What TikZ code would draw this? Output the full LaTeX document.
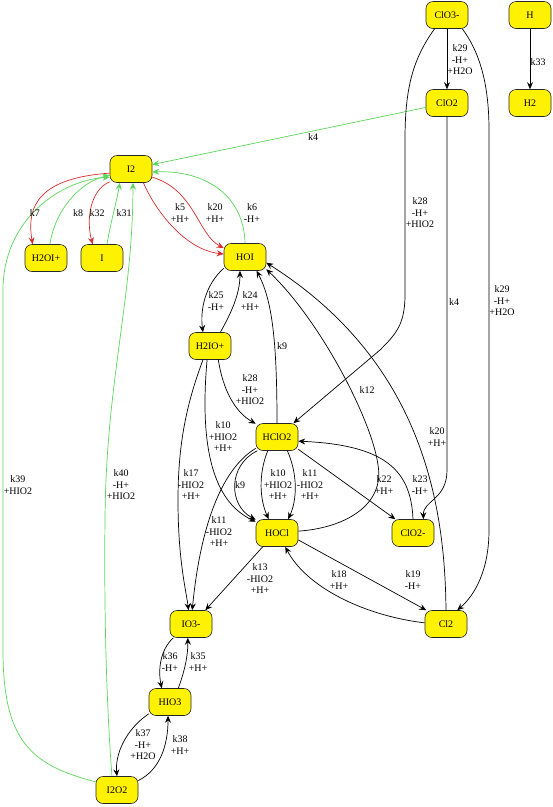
\documentclass[tikz,border=0pt]{standalone}
\usepackage{fontspec}
\setmainfont{Liberation Serif}
\usetikzlibrary{arrows.meta}
\definecolor{grn}{RGB}{90,215,90}
\definecolor{rd}{RGB}{215,45,45}

\begin{document}
\begin{tikzpicture}[x=1pt,y=-1pt,font=\fontsize{10}{11.5}\selectfont,
  sp/.style={draw=black!85,fill=yellow,rounded corners=7pt,minimum width=42pt,minimum height=27pt,inner sep=1pt,line width=0.6pt},
  lbl/.style={align=center,inner sep=0pt},
  e/.style={draw=black,line width=0.7pt,-{Stealth[length=7pt,width=6pt,inset=2.5pt]}},
  eg/.style={e,draw=grn},
  er/.style={e,draw=rd}]
\useasboundingbox (0,0) rectangle (553,807);

% species
\node[sp] (clo3m) at (447,15) {ClO3-};
\node[sp] (h) at (530,15) {H};
\node[sp] (clo2) at (447,103) {ClO2};
\node[sp] (htwo) at (530,103) {H2};
\node[sp] (itwo) at (131,169) {I2};
\node[sp] (h2oip) at (46,258) {H2OI+};
\node[sp] (iat) at (102,258) {I};
\node[sp] (hoi) at (245,257) {HOI};
\node[sp] (h2iop) at (210,346) {H2IO+};
\node[sp] (hclo2) at (277,437) {HClO2};
\node[sp] (hocl) at (277,533) {HOCl};
\node[sp] (clo2m) at (413,533) {ClO2-};
\node[sp] (cltwo) at (446,624) {Cl2};
\node[sp] (io3m) at (191,624) {IO3-};
\node[sp] (hio3) at (170,702) {HIO3};
\node[sp] (i2o2) at (117,790) {I2O2};

% chlorine side
\draw[e] (clo3m) -- (clo2);
\draw[e] (h) -- (htwo);
\draw[eg] (clo2) -- (itwo);
\draw[e] (clo2.south) -- (447,470) .. controls (447,500) and (423,500) .. (clo2m.53);
\draw[e] (clo3m.-132) .. controls (412,60) and (405,90) .. (405,140) -- (405,295)
  .. controls (405,325) and (395,335) .. (380,350) -- (hclo2.40);
\draw[e] (clo3m.-42) .. controls (478,50) and (489,80) .. (489,130) -- (489,530)
  .. controls (489,570) and (475,595) .. (cltwo.51);

% iodine top
\draw[er] (itwo.191) .. controls (40,178) and (26,205) .. (h2oip.134);
\draw[eg] (h2oip.74) .. controls (55,210) and (80,182) .. (itwo.196);
\draw[er] (itwo.211) .. controls (90,190) and (86,220) .. (iat.124);
\draw[eg] (iat.70) .. controls (110,225) and (117,200) .. (itwo.-129);
\draw[er] (itwo.-48) .. controls (155,210) and (185,250) .. (hoi.172);
\draw[er] (itwo.-21) .. controls (195,190) and (198,235) .. (hoi.157);
\draw[eg] (hoi.north) .. controls (244,195) and (205,170) .. (itwo.-8);
\draw[eg] (i2o2.110) .. controls (106,700) and (104,600) .. (105,520)
  .. controls (106,380) and (133,300) .. (itwo.-82);
\draw[eg] (i2o2.159) .. controls (30,765) and (3,740) .. (3,650) -- (3,290)
  .. controls (3,220) and (60,180) .. (itwo.201);

% HOI / H2IO+
\draw[e] (hoi.208) .. controls (205,285) and (200,310) .. (h2iop.117);
\draw[e] (h2iop.53) .. controls (230,315) and (240,295) .. (hoi.-110);
\draw[e] (hclo2.north) .. controls (277,340) and (272,300) .. (hoi.-50);
\draw[e] (hocl.5) .. controls (345,528) and (385,505) .. (378,465)
  .. controls (372,420) and (320,320) .. (hoi.-30);
\draw[e] (cltwo.north) .. controls (445,500) and (420,360) .. (hoi.-15);
\draw[e] (h2iop.-59) .. controls (223,390) and (235,412) .. (hclo2.148);
\draw[e] (h2iop.-102) .. controls (200,440) and (210,500) .. (hocl.152);
\draw[e] (h2iop.-117) .. controls (188,400) and (178,440) .. (178,500)
  .. controls (178,560) and (186,590) .. (io3m.100);

% HClO2 / HOCl
\draw[e] (hclo2.-145) .. controls (228,465) and (228,505) .. (hocl.148);
\draw[e] (hclo2.-124) .. controls (258,475) and (260,500) .. (hocl.121);
\draw[e] (hclo2.-53) .. controls (298,475) and (297,500) .. (hocl.51);
\draw[e] (hclo2.-152) .. controls (220,470) and (200,530) .. (io3m.85);
\draw[e] (hocl.-136) -- (io3m.44);
\draw[e] (hocl.-18) -- (cltwo.145);
\draw[e] (cltwo.177) .. controls (360,615) and (305,585) .. (hocl.-59);
\draw[e] (hclo2.-30) -- (clo2m.142);
\draw[e] (clo2m.north) .. controls (411,470) and (385,445) .. (hclo2.-11);

% iodate chain
\draw[e] (io3m.-142) .. controls (160,650) and (158,670) .. (hio3.121);
\draw[e] (hio3.59) .. controls (185,670) and (188,655) .. (io3m.-103);
\draw[e] (hio3.-151) .. controls (125,730) and (115,755) .. (i2o2.north);
\draw[e] (i2o2.24) .. controls (160,770) and (168,745) .. (hio3.-98);

% rate labels
\node[lbl] (l29a) at (460,60) {k29\\-H+\\+H2O};
\node[lbl] (l33) at (538,62) {k33};
\node[lbl] (l4a) at (313,137) {k4};
\node[lbl] (l4b) at (454,302) {k4};
\node[lbl] (l28a) at (420,213) {k28\\-H+\\+HIO2};
\node[lbl] (l29b) at (502,301) {k29\\-H+\\+H2O};
\node[lbl] (l7) at (35,213) {k7};
\node[lbl] (l8) at (78,213) {k8};
\node[lbl] (l32) at (97,213) {k32};
\node[lbl] (l31) at (124,213) {k31};
\node[lbl] (l5) at (180,213) {k5\\+H+};
\node[lbl] (l20a) at (215,213) {k20\\+H+};
\node[lbl] (l6) at (252,213) {k6\\-H+};
\node[lbl] (l25) at (216,301) {k25\\-H+};
\node[lbl] (l24) at (250,301) {k24\\+H+};
\node[lbl] (l9a) at (282,346) {k9};
\node[lbl] (l12) at (367,390) {k12};
\node[lbl] (l28b) at (250,390) {k28\\-H+\\+HIO2};
\node[lbl] (l20b) at (437,437) {k20\\+H+};
\node[lbl] (l10a) at (223,437) {k10\\+HIO2\\+H+};
\node[lbl] (l17) at (191,485) {k17\\-HIO2\\+H+};
\node[lbl] (l9b) at (240,485) {k9};
\node[lbl] (l10b) at (278,485) {k10\\+HIO2\\+H+};
\node[lbl] (l11a) at (310,485) {k11\\-HIO2\\+H+};
\node[lbl] (l22) at (384,485) {k22\\+H+};
\node[lbl] (l23) at (420,485) {k23\\-H+};
\node[lbl] (l11b) at (219,532) {k11\\-HIO2\\+H+};
\node[lbl] (l13) at (260,579) {k13\\-HIO2\\+H+};
\node[lbl] (l18) at (339,580) {k18\\+H+};
\node[lbl] (l19) at (413,580) {k19\\-H+};
\node[lbl] (l36) at (170,662) {k36\\-H+};
\node[lbl] (l35) at (198,662) {k35\\+H+};
\node[lbl] (l37) at (143,745) {k37\\-H+\\+H2O};
\node[lbl] (l38) at (180,745) {k38\\+H+};
\node[lbl] (l39) at (18,485) {k39\\+HIO2};
\node[lbl] (l40) at (121,485) {k40\\-H+\\+HIO2};

\end{tikzpicture}
\end{document}
